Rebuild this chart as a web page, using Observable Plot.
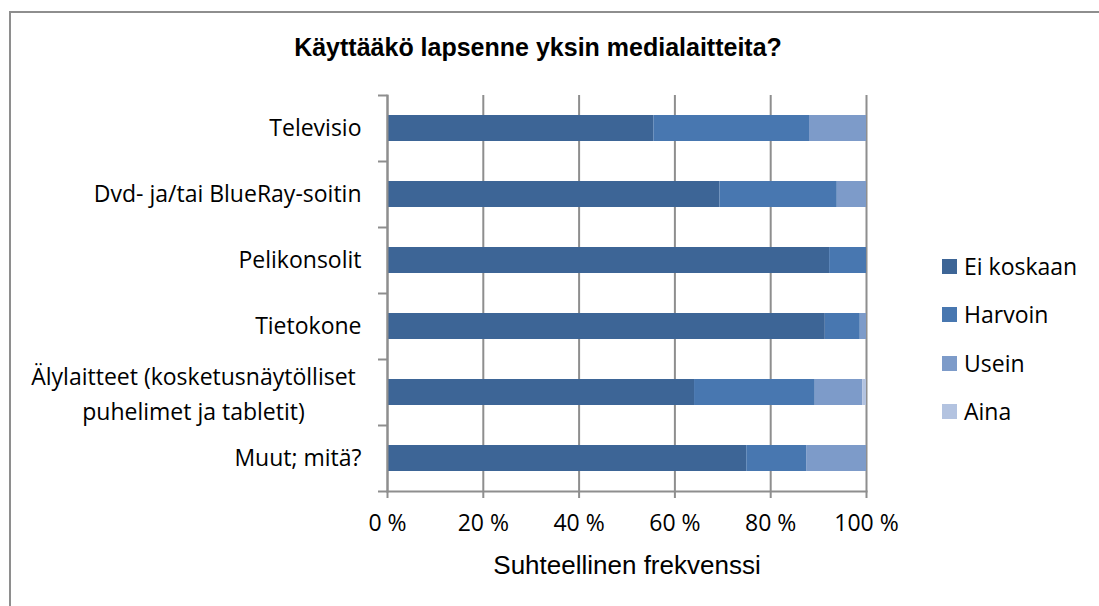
<!DOCTYPE html>
<html>
<head>
<meta charset="utf-8">
<script src="https://cdn.jsdelivr.net/npm/d3@7"></script>
<script src="https://cdn.jsdelivr.net/npm/@observablehq/plot@0.6"></script>
<style>
  html, body { margin: 0; padding: 0; background: #fff; overflow: hidden; }
  #wrap { position: relative; width: 1099px; height: 606px; overflow: hidden; background: #fff; }
  #box { position: absolute; left: 9px; top: 11px; width: 1200px; height: 700px; border: 2px solid #8e8e8e; box-sizing: border-box; }
  #title { position: absolute; left: 0; top: 35px; width: 1076px; text-align: center; font: bold 25px "Liberation Sans", Arial, sans-serif; line-height: 25px; color: #000; }
  #chart { position: absolute; left: 0; top: 0; }
  #legend { position: absolute; left: 942px; top: 259px; font-family: "Open Sans", sans-serif; font-size: 23px; color: #000; }
  .item { position: absolute; left: 0; height: 15px; white-space: nowrap; }
  .sw { position: absolute; left: 0; top: 0; width: 15px; height: 15px; }
  .lab { position: absolute; left: 22px; top: -9px; line-height: 32px; height: 32px; display: flex; align-items: center; }
</style>
</head>
<body>
<div id="wrap">
  <div id="box"></div>
  <div id="title">Käyttääkö lapsenne yksin medialaitteita?</div>
  <div id="chart"></div>
  <div id="legend"></div>
</div>
<script>
// Categories (devices), top to bottom
const devices = [
  "Televisio",
  "Dvd- ja/tai BlueRay-soitin",
  "Pelikonsolit",
  "Tietokone",
  "Älylaitteet (kosketusnäytölliset puhelimet ja tabletit)",
  "Muut; mitä?"
];
const deviceLabels = [
  "Televisio",
  "Dvd- ja/tai BlueRay-soitin",
  "Pelikonsolit",
  "Tietokone",
  "Älylaitteet (kosketusnäytölliset\npuhelimet ja tabletit)",
  "Muut; mitä?"
];
// Response categories (series)
const responses = ["Ei koskaan", "Harvoin", "Usein", "Aina"];
const colors = ["#3d6596", "#4877b0", "#7d9bc9", "#b3c3e0"];
// Series values (percent)
const eiKoskaan = [55.6, 69.4, 92.3, 91.4, 64.1, 75.0];
const harvoin   = [32.5, 24.5,  7.7,  7.3, 25.2, 12.5];
const usein     = [11.9,  6.1,  0.0,  1.3,  9.9, 12.5];
const aina      = [ 0.0,  0.0,  0.0,  0.0,  0.8,  0.0];
// X tick values
const xTicks = [0, 20, 40, 60, 80, 100];
const xTickLabels = ["0 %", "20 %", "40 %", "60 %", "80 %", "100 %"];
const xLabel = "Suhteellinen frekvenssi";

const series = [eiKoskaan, harvoin, usein, aina];
const data = [];
devices.forEach((d, i) => {
  responses.forEach((r, j) => {
    if (series[j][i] > 0) data.push({device: d, response: r, value: series[j][i]});
  });
});
const labelOf = new Map(devices.map((d, i) => [d, deviceLabels[i]]));
const multi = devices.filter(d => labelOf.get(d).includes("\n"));
const single = devices.filter(d => !labelOf.get(d).includes("\n"));

const gray = "#8e8e8e";
const sans = "'Open Sans', sans-serif";

const chart = Plot.plot({
  width: 1099,
  height: 606,
  marginLeft: 387,
  marginRight: 233,
  marginTop: 95,
  marginBottom: 115,
  style: {background: "transparent", fontFamily: sans, color: "#000"},
  x: {domain: [0, 100], ticks: xTicks, label: null},
  y: {domain: devices, paddingInner: 0.606, paddingOuter: 0.303, axis: null, label: null},
  color: {domain: responses, range: colors},
  marks: [
    Plot.ruleX(xTicks, {stroke: gray, strokeWidth: 2}),
    Plot.barX(data, Plot.stackX({x: "value", y: "device", fill: "response", order: responses})),
    Plot.frame({anchor: "bottom", stroke: gray, strokeWidth: 2}),
    Plot.frame({anchor: "left", stroke: gray, strokeWidth: 2}),
    // y tick marks at category boundaries
    Plot.ruleY(devices, {y: d => d, dy: -33, x1: 0, x2: 0, insetLeft: -9, stroke: gray, strokeWidth: 2}),
    Plot.ruleY(devices.slice(-1), {y: d => d, dy: 33, x1: 0, x2: 0, insetLeft: -9, stroke: gray, strokeWidth: 2}),
    // x tick marks
    Plot.axisX({ticks: xTicks, tickSize: 7, tickFormat: () => "", stroke: gray, strokeWidth: 2, label: null}),
    // x tick labels
    Plot.axisX({ticks: xTicks, tickSize: 0, tickPadding: 23, tickFormat: (d) => xTickLabels[xTicks.indexOf(d)], fontSize: 23, fontFamily: sans, fill: "#000", label: null}),
    // y labels
    Plot.text(single, {y: d => d, frameAnchor: "left", textAnchor: "end", dx: -26, text: d => labelOf.get(d), fontSize: 23, fontFamily: sans, fill: "#000"}),
    Plot.text(multi, {y: d => d, frameAnchor: "left", textAnchor: "middle", dx: -194, dy: -1, lineHeight: 1.5, text: d => labelOf.get(d), fontSize: 23, fontFamily: sans, fill: "#000"}),
    // x axis title
    Plot.text([xLabel], {frameAnchor: "bottom", lineAnchor: "bottom", dy: 82, text: d => d, fontSize: 26, fontFamily: "'Liberation Sans', Arial, sans-serif", fill: "#000"})
  ]
});
document.getElementById("chart").appendChild(chart);

// Legend
const legend = document.getElementById("legend");
responses.forEach((r, i) => {
  const it = document.createElement("div");
  it.className = "item";
  it.style.top = (i * 48.3) + "px";
  it.innerHTML = `<div class="sw" style="background:${colors[i]}"></div><div class="lab">${r}</div>`;
  legend.appendChild(it);
});
</script>
</body>
</html>
